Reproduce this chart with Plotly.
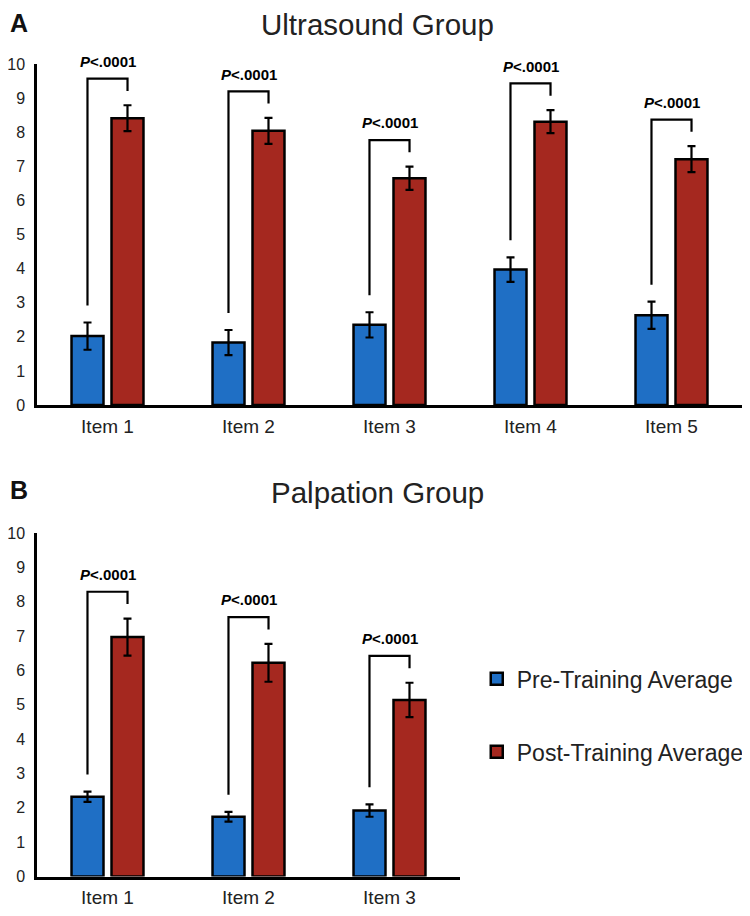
import plotly.graph_objects as go

# Panel A - Ultrasound group
us_items = ['Item 1', 'Item 2', 'Item 3', 'Item 4', 'Item 5']
us_pre = [2.02, 1.83, 2.35, 3.97, 2.63]
us_pre_err = [0.40, 0.37, 0.37, 0.36, 0.40]
us_post = [8.41, 8.04, 6.65, 8.31, 7.21]
us_post_err = [0.38, 0.38, 0.34, 0.34, 0.38]

# Panel B - Palpation group
pa_items = ['Item 1', 'Item 2', 'Item 3']
pa_pre = [2.32, 1.74, 1.92]
pa_pre_err = [0.15, 0.14, 0.18]
pa_post = [6.97, 6.22, 5.14]
pa_post_err = [0.54, 0.55, 0.50]

p_label = '<b><i>P</i>&lt;.0001</b>'
y_ticks = list(range(0, 11))

BLUE = '#1F6FC5'
RED = '#A5281F'
FONT = 'Liberation Sans, Arial, sans-serif'
W, H = 750, 916
PAGE_OFF = 8  # default body margin of the html page


def px_x(x):
    return (x - PAGE_OFF) / W


def px_y(y):
    return (H - (y - PAGE_OFF)) / H


# plot areas, page pixels (bottom, top)
dom_a = [px_y(405), px_y(64)]
dom_b = [px_y(876.5), px_y(533)]

fig = go.Figure()


def add_panel(items, pre, pre_err, post, post_err, xa, ya, dom, show_legend):
    fig.add_trace(go.Bar(
        x=items, y=pre, name='Pre-Training Average',
        marker=dict(color=BLUE, line=dict(color='black', width=2.5)),
        error_y=dict(type='data', array=pre_err, color='black', thickness=2.2, width=4),
        xaxis=xa, yaxis=ya, showlegend=show_legend, legendgroup='pre'
    ))
    fig.add_trace(go.Bar(
        x=items, y=post, name='Post-Training Average',
        marker=dict(color=RED, line=dict(color='black', width=2.5)),
        error_y=dict(type='data', array=post_err, color='black', thickness=2.2, width=4),
        xaxis=xa, yaxis=ya, showlegend=show_legend, legendgroup='post'
    ))
    # significance brackets
    off = 0.142
    for i in range(len(items)):
        left_low = pre[i] + pre_err[i] + 0.5
        right_low = post[i] + post_err[i] + 0.42
        top = right_low + 0.36
        fig.add_shape(type='path',
                      path=f'M {i - off} {left_low} L {i - off} {top} L {i + off} {top} L {i + off} {right_low}',
                      xref=xa, yref=ya, line=dict(color='black', width=2.2))
        # label may sit above the axis range, so place it in paper units
        ty = dom[0] + (top + 0.5) / 10 * (dom[1] - dom[0])
        fig.add_annotation(x=i, y=ty, xref=xa, yref='paper', yanchor='middle', text=p_label,
                           showarrow=False, font=dict(size=15, color='black', family=FONT))


add_panel(us_items, us_pre, us_pre_err, us_post, us_post_err, 'x', 'y', dom_a, True)
add_panel(pa_items, pa_pre, pa_pre_err, pa_post, pa_post_err, 'x2', 'y2', dom_b, False)

xaxis_style = dict(showline=True, linecolor='black', linewidth=2.5, ticks='',
                   showgrid=False, zeroline=False, fixedrange=True, automargin=False,
                   ticklabelstandoff=2,
                   tickfont=dict(size=19, color='#222', family=FONT))
yaxis_style = dict(showline=True, linecolor='black', linewidth=2.5, ticks='',
                   showgrid=False, zeroline=False, range=[0, 10], tickvals=y_ticks,
                   ticklabelstandoff=6, automargin=False,
                   tickfont=dict(size=16, color='#222', family=FONT))

fig.update_layout(
    width=W, height=H,
    margin=dict(l=0, r=0, t=0, b=0, autoexpand=False),
    paper_bgcolor='white', plot_bgcolor='white',
    barmode='group', bargap=0.433, bargroupgap=0.2,
    xaxis=dict(domain=[px_x(37), px_x(742)], anchor='y', **xaxis_style),
    yaxis=dict(domain=dom_a, anchor='x', **yaxis_style),
    xaxis2=dict(domain=[px_x(37), px_x(460)], anchor='y2', **xaxis_style),
    yaxis2=dict(domain=dom_b, anchor='x2', **yaxis_style),
    legend=dict(x=0.625, y=0.2911, xanchor='left', yanchor='top',
                font=dict(size=23, color='#222', family=FONT),
                tracegroupgap=40, itemwidth=30, bgcolor='rgba(0,0,0,0)'),
    showlegend=True,
)

# panel letters and titles
fig.add_annotation(x=px_x(8), y=px_y(23), xref='paper', yref='paper', text='<b>A</b>',
                   showarrow=False, xanchor='left', yanchor='middle',
                   font=dict(size=25, color='#111', family=FONT))
fig.add_annotation(x=px_x(377), y=px_y(24), xref='paper', yref='paper', text='Ultrasound Group',
                   showarrow=False, xanchor='center', yanchor='middle',
                   font=dict(size=29.5, color='#222', family=FONT))
fig.add_annotation(x=px_x(8), y=px_y(490), xref='paper', yref='paper', text='<b>B</b>',
                   showarrow=False, xanchor='left', yanchor='middle',
                   font=dict(size=25, color='#111', family=FONT))
fig.add_annotation(x=px_x(377), y=px_y(492), xref='paper', yref='paper', text='Palpation Group',
                   showarrow=False, xanchor='center', yanchor='middle',
                   font=dict(size=29.5, color='#222', family=FONT))

fig.write_html('out.html')
